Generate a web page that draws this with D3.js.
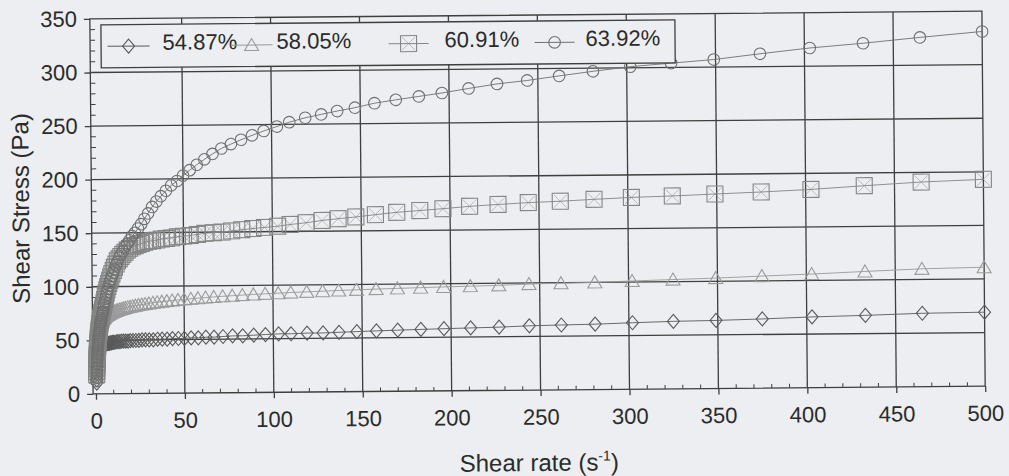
<!DOCTYPE html>
<html>
<head>
<meta charset="utf-8">
<script src="https://cdn.jsdelivr.net/npm/d3@7"></script>
<style>
  html, body { margin: 0; padding: 0; background: #eceef1; }
  svg { display: block; }
  text { font-family: "Liberation Sans", Arial, Helvetica, sans-serif; fill: #2b2b2b; }
</style>
</head>
<body>
<svg id="chart" width="1009" height="476"></svg>
<script>
// Shear rate (1/s) for every measured point
const shearRate = [
  0.50, 0.54, 0.58, 0.62, 0.67, 0.72, 0.77, 0.83, 0.89, 0.96,
  1.03, 1.10, 1.19, 1.27, 1.37, 1.47, 1.58, 1.70, 1.83, 1.96,
  2.11, 2.27, 2.44, 2.62, 2.81, 3.02, 3.25, 3.49, 3.75, 4.03,
  4.33, 4.65, 5.00, 5.38, 5.78, 6.21, 6.67, 7.17, 7.71, 8.28,
  8.90, 9.56, 10.3, 11.0, 11.9, 12.7, 13.7, 14.7, 15.8, 17.0,
  18.3, 19.6, 21.1, 22.7, 24.4, 26.2, 28.1, 30.2, 32.5, 34.9,
  37.5, 40.3, 43.3, 46.6, 50.0, 53.8, 57.8, 62.1, 66.7, 71.7,
  77.1, 82.8, 89.0, 95.6, 103, 110, 119, 128, 137, 147,
  158, 170, 183, 196, 211, 227, 244, 262, 281, 302,
  325, 349, 375, 403, 433, 465, 500
];

// Shear stress (Pa) per solids content
const stress5487 = [
  10, 13, 16, 19, 22, 25, 27, 29, 31, 33,
  34, 35, 36, 37, 38, 39, 39.5, 40, 41, 41.5,
  42, 42.5, 43, 43, 43.5, 44, 44, 44.5, 45, 45,
  45.5, 45.5, 46, 46, 46.5, 46.5, 47, 47, 47, 47.5,
  47.5, 48, 48, 48, 48.5, 48.5, 48.5, 49, 49, 49,
  49, 49.5, 49.5, 49.5, 49.5, 50, 50, 50, 50, 50.5,
  50.5, 50.5, 51, 51, 51, 51.5, 51.5, 52, 52, 52.5,
  53, 53, 53.5, 54, 54.5, 54.5, 55, 55, 55.5, 56,
  56.5, 57, 57.5, 58, 58.5, 59, 60, 60.5, 61, 62,
  63, 63.5, 64.5, 66, 67, 68.5, 69
];
const stress5805 = [
  15, 18, 21, 24, 27, 30, 33, 36, 38, 40,
  42, 44, 46, 48, 50, 52, 54, 55.5, 57, 58.5,
  60, 61, 62, 63, 64, 65, 66, 67, 68, 69,
  70, 70.5, 71, 72, 72.5, 73, 73.5, 74, 74.5, 75,
  75.5, 76, 76.5, 77, 77.5, 78, 78.5, 79, 79.5, 80,
  80.5, 81, 81.5, 82, 82.5, 83, 83.5, 84, 84.5, 85,
  85.5, 86, 86.5, 87, 87.5, 88, 88.5, 89, 89.5, 90,
  90.5, 91, 91.5, 92, 92.5, 93, 93.5, 94, 94.5, 95,
  95.5, 96, 96.5, 97, 97.5, 98, 99, 99.5, 100, 101,
  102, 103, 104.5, 106, 108, 110, 111
];
const stress6091 = [
  18, 21, 24, 26, 28, 30, 32, 34, 36, 38,
  40, 42, 44, 46, 48, 50, 52, 54, 56, 58,
  60, 62, 64, 66, 68, 70, 72, 74, 76, 78,
  80, 82, 85, 88, 91, 94, 97, 100, 103, 106,
  109, 112, 115, 118, 121, 124, 126, 128, 130, 132,
  134, 135.5, 137, 138, 139, 140, 141, 142, 142.5, 143,
  144, 144.5, 145, 146, 146.5, 147, 148, 149, 149.5, 150,
  151, 152, 153, 154, 155, 156.5, 158, 160, 161.5, 163,
  165, 167, 168.5, 170, 172, 173.5, 175, 176, 177.5, 179,
  180, 181.5, 183, 185, 188, 191, 193
];
const stress6392 = [
  12, 15, 18, 21, 24, 27, 29, 31, 33, 35,
  37, 39, 41, 43, 45, 47, 49, 51, 53, 55,
  57, 59, 61, 63, 65, 67, 69, 71, 73, 75,
  77, 80, 83, 86, 89, 92, 95, 98, 101, 104,
  107, 110, 113, 116, 120, 123, 127, 130, 133, 137,
  140, 143, 147, 150, 154, 158, 163, 168, 174, 179,
  184, 189, 194, 198, 203, 208, 213, 218, 223, 228,
  232, 236, 240, 244, 248, 252, 256, 259, 262, 265,
  269, 272, 275, 278, 282, 286, 289, 293, 297, 301,
  304, 307, 312, 317, 321, 326, 331
];

const seriesNames = ["54.87%", "58.05%", "60.91%", "63.92%"];
const xTicks = [0, 50, 100, 150, 200, 250, 300, 350, 400, 450, 500];
const yTicks = [0, 50, 100, 150, 200, 250, 300, 350];
const xLabel = "Shear rate (s";
const xLabelSup = "-1";
const yLabel = "Shear Stress (Pa)";

const series = [
  { name: seriesNames[0], values: stress5487, shape: "diamond", color: "#5a5a5a" },
  { name: seriesNames[1], values: stress5805, shape: "triangle", color: "#9a9a9a" },
  { name: seriesNames[2], values: stress6091, shape: "square", color: "#858585" },
  { name: seriesNames[3], values: stress6392, shape: "circle", color: "#707070" }
];

const svg = d3.select("#chart");
// the printed figure sits slightly askew on the page
const root = svg.append("g").attr("transform", "rotate(-0.5,539,207)");

const pLeft = 91.5, pRight = 983.6, pTop = 15, pBottom = 390;
const x = d3.scaleLinear().domain([-1.6, 500]).range([pLeft, pRight]);
const y = d3.scaleLinear().domain([0, 350]).range([pBottom, pTop]);

const gridColor = "#3f3f3f";

// grid
const grid = root.append("g");
grid.selectAll("line.gx").data(xTicks.filter(d => d > 0 && d < 500)).join("line")
  .attr("x1", d => x(d)).attr("x2", d => x(d))
  .attr("y1", pTop).attr("y2", pBottom)
  .attr("stroke", gridColor).attr("stroke-width", 1.3);
grid.selectAll("line.gy").data(yTicks.filter(d => d > 0 && d < 350)).join("line")
  .attr("x1", pLeft).attr("x2", pRight)
  .attr("y1", d => y(d)).attr("y2", d => y(d))
  .attr("stroke", gridColor).attr("stroke-width", 1.3);

// frame
root.append("rect").attr("x", pLeft).attr("y", pTop)
  .attr("width", pRight - pLeft).attr("height", pBottom - pTop)
  .attr("fill", "none").attr("stroke", gridColor).attr("stroke-width", 1.3);

// minor ticks (inside)
const xMinor = d3.range(10, 500, 10).filter(d => d % 50 !== 0);
root.append("g").selectAll("line").data(xMinor).join("line")
  .attr("x1", d => x(d)).attr("x2", d => x(d))
  .attr("y1", pBottom).attr("y2", pBottom - 4)
  .attr("stroke", gridColor).attr("stroke-width", 1);
const yMinor = d3.range(10, 350, 10).filter(d => d % 50 !== 0);
root.append("g").selectAll("line").data(yMinor).join("line")
  .attr("x1", pLeft).attr("x2", pLeft + 5)
  .attr("y1", d => y(d)).attr("y2", d => y(d))
  .attr("stroke", gridColor).attr("stroke-width", 1);

// axes
const xAxis = root.append("g").attr("transform", `translate(0,${pBottom})`)
  .call(d3.axisBottom(x).tickValues(xTicks).tickSize(6).tickPadding(13));
const yAxis = root.append("g").attr("transform", `translate(${pLeft},0)`)
  .call(d3.axisLeft(y).tickValues(yTicks).tickSize(6).tickPadding(7));
[xAxis, yAxis].forEach(g => {
  g.select(".domain").remove();
  g.selectAll(".tick line").attr("stroke", gridColor).attr("stroke-width", 1.3);
  g.selectAll(".tick text").attr("font-size", 22).attr("fill", "#2b2b2b")
    .style("font-family", "'Liberation Sans', Arial, sans-serif");
});

// axis titles
const xt = root.append("text").attr("x", 537).attr("y", 471)
  .attr("text-anchor", "middle").attr("font-size", 24);
xt.append("tspan").text(xLabel);
xt.append("tspan").attr("font-size", 14).attr("dy", -10).text(xLabelSup);
xt.append("tspan").attr("dy", 10).text(")");

root.append("text").attr("transform", "translate(29,204) rotate(-90)")
  .attr("text-anchor", "middle").attr("font-size", 24).text(yLabel);

// marker shapes
function markerPath(shape) {
  switch (shape) {
    case "diamond": return "M0,-7L6,0L0,7L-6,0Z";
    case "triangle": return "M0,-6.5L7,5.5L-7,5.5Z";
    case "square": return "M-8,-8H8V8H-8Z";
    default: return null;
  }
}
function drawMarker(g, shape, color) {
  if (shape === "circle") {
    g.append("circle").attr("r", 5.8).attr("fill", "none")
      .attr("stroke", color).attr("stroke-width", 1.1);
  } else {
    g.append("path").attr("d", markerPath(shape)).attr("fill", "none")
      .attr("stroke", color).attr("stroke-width", 1.1);
    if (shape === "square") {
      g.append("path").attr("d", "M-6.5,-6.5L6.5,6.5M6.5,-6.5L-6.5,6.5").attr("fill", "none")
        .attr("stroke", color).attr("stroke-width", 0.7).attr("opacity", 0.7);
    }
  }
}

const line = d3.line().x((d, i) => x(shearRate[i])).y(d => y(d));
const plot = root.append("g");
series.forEach(s => {
  plot.append("path").datum(s.values).attr("d", line)
    .attr("fill", "none").attr("stroke", s.color).attr("stroke-width", 0.9);
  const pts = plot.append("g");
  s.values.forEach((v, i) => {
    const g = pts.append("g").attr("transform", `translate(${x(shearRate[i])},${y(v)})`);
    drawMarker(g, s.shape, s.color);
  });
});

// legend
const lg = root.append("g");
const lgTop = 21, lgH = 43, lgMid = lgTop + lgH / 2;
lg.append("rect").attr("x", 102.5).attr("y", lgTop).attr("width", 574).attr("height", lgH)
  .attr("fill", "#eceef1").attr("stroke", gridColor).attr("stroke-width", 1.3);
const legendPos = [
  { lx: 109, mx: 130, tx: 164 },
  { lx: 232, mx: 253, tx: 278 },
  { lx: 390, mx: 410, tx: 446 },
  { lx: 536, mx: 556, tx: 587 }
];
series.forEach((s, i) => {
  const p = legendPos[i];
  lg.append("line").attr("x1", p.lx).attr("x2", p.mx * 2 - p.lx).attr("y1", lgMid).attr("y2", lgMid)
    .attr("stroke", s.color).attr("stroke-width", 1);
  const g = lg.append("g").attr("transform", `translate(${p.mx},${lgMid})`);
  drawMarker(g, s.shape, s.color);
  lg.append("text").attr("x", p.tx).attr("y", lgMid + 4).attr("font-size", 22).text(s.name);
});
</script>
</body>
</html>
